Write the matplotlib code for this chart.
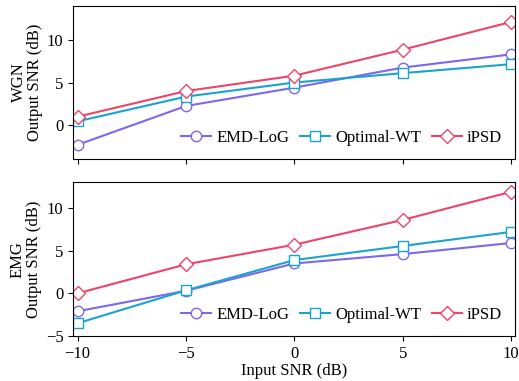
import matplotlib
matplotlib.use("Agg")
import matplotlib.pyplot as plt

plt.rcParams['font.family'] = ['Liberation Serif', 'DejaVu Serif']
plt.rcParams['mathtext.fontset'] = 'stix'
plt.rcParams['font.size'] = 12

input_snr = [-10, -5, 0, 5, 10]
methods = ['EMD-LoG', 'Optimal-WT', 'iPSD']

wgn_emd = [-2.3, 2.25, 4.4, 6.75, 8.3]
wgn_wt = [0.45, 3.35, 5.0, 6.1, 7.15]
wgn_ipsd = [1.0, 4.0, 5.8, 8.85, 12.1]

emg_emd = [-2.1, 0.3, 3.5, 4.6, 5.9]
emg_wt = [-3.5, 0.35, 3.9, 5.55, 7.2]
emg_ipsd = [0.0, 3.4, 5.7, 8.6, 11.9]

colors = ['#7b68ee', '#1ba3cf', '#ee4469']
markers = ['o', 's', 'D']

fig, axes = plt.subplots(2, 1, figsize=(5.19, 3.81), dpi=100, sharex=True)

panels = [
    ('WGN', [wgn_emd, wgn_wt, wgn_ipsd], (-4, 14)),
    ('EMG', [emg_emd, emg_wt, emg_ipsd], (-5, 13)),
]

for ax, (name, series, ylim) in zip(axes, panels):
    for vals, lab, c, m in zip(series, methods, colors, markers):
        ax.plot(input_snr, vals, color=c, marker=m, markersize=7.5 if m != 'D' else 7,
                markerfacecolor='white', markeredgecolor=c, markeredgewidth=1.0,
                linewidth=1.5, label=lab)
    ax.set_ylim(*ylim)
    ax.set_yticks([-5, 0, 5, 10] if name == 'EMG' else [0, 5, 10])
    ax.set_ylabel(f'{name}\nOutput SNR (dB)', linespacing=1.0, labelpad=3)
    ax.legend(loc='lower right', ncol=3, frameon=False, handlelength=1.8,
              columnspacing=0.65, handletextpad=0.3, borderaxespad=0.4)

axes[1].set_xlim(-10.2, 10.2)
axes[1].set_xticks(input_snr)
axes[1].set_xlabel('Input SNR (dB)', labelpad=1)

fig.subplots_adjust(left=0.141, right=0.993, top=0.985, bottom=0.118, hspace=0.15)
fig.savefig('out.png', dpi=100)
